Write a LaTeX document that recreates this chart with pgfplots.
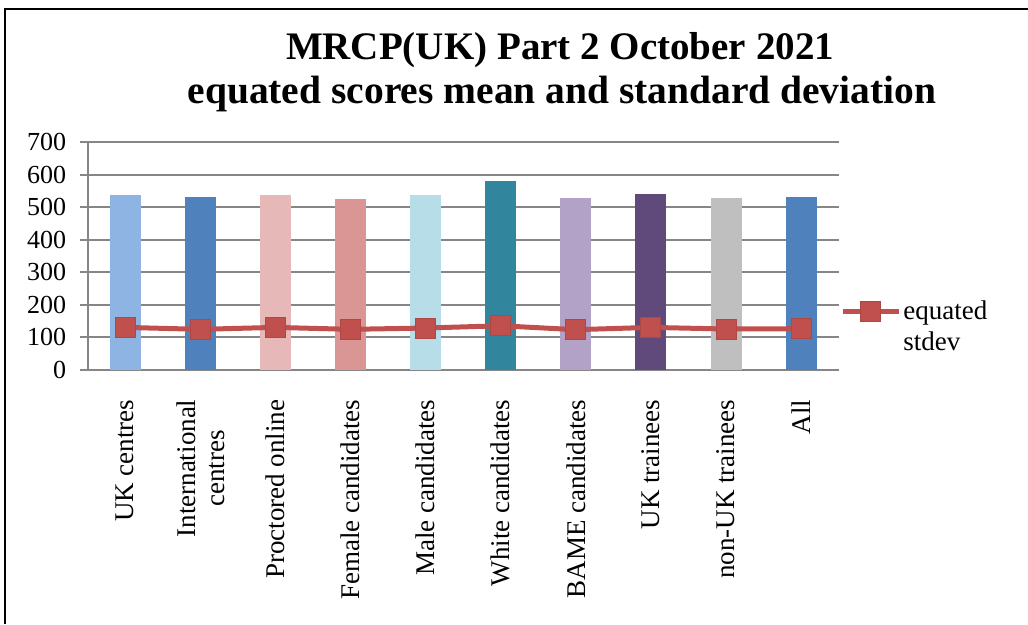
\documentclass[border=0pt]{standalone}
\usepackage{pgfplots}
\pgfplotsset{compat=1.18}
\usepackage{fontspec}
\setmainfont{Liberation Serif}
\definecolor{c1}{HTML}{8EB4E3}
\definecolor{c2}{HTML}{4F81BD}
\definecolor{c3}{HTML}{E6B9B8}
\definecolor{c4}{HTML}{D99694}
\definecolor{c5}{HTML}{B7DEE8}
\definecolor{c6}{HTML}{31859C}
\definecolor{c7}{HTML}{B3A2C7}
\definecolor{c8}{HTML}{604A7B}
\definecolor{c9}{HTML}{BFBFBF}
\definecolor{c10}{HTML}{4F81BD}
\definecolor{lred}{HTML}{C0504D}
\definecolor{gridg}{HTML}{868686}
\begin{document}
\begin{tikzpicture}
\useasboundingbox (0pt,0pt) rectangle (1028pt,624pt);
\draw[line width=2.5pt,black] (5pt,0pt) -- (5pt,615pt) -- (1028pt,615pt);
\node[font=\fontsize{39}{44}\selectfont\bfseries,anchor=base] at (560pt,564pt) {MRCP(UK) Part 2 October 2021};
\node[font=\fontsize{39.5}{44}\selectfont\bfseries,anchor=base] at (562pt,520pt) {equated scores mean and standard deviation};
\begin{axis}[
  at={(87.7pt,254pt)}, anchor=south west,
  scale only axis, width=751pt, height=227.7pt,
  xmin=-0.5, xmax=9.5, ymin=0, ymax=700,
  ytick={0,100,...,700},
  xtick={0,...,9},
  xticklabels={UK centres,{International\\centres},Proctored online,Female candidates,Male candidates,White candidates,BAME candidates,UK trainees,non-UK trainees,All},
  xticklabel style={rotate=90, anchor=east, align=center, xshift=-18pt, font=\fontsize{27}{29}\selectfont},
  yticklabel style={xshift=-10pt, font=\fontsize{26}{28}\selectfont},
  /pgf/number format/assume math mode=true,
  ymajorgrids, grid style={gridg, line width=2pt},
  axis line style={gridg, line width=2pt},
  axis x line*=bottom, axis y line*=left,
  x axis line style={-}, y axis line style={-},
  major tick length=8pt, tick align=outside,
  xtick style={draw=none}, ytick style={gridg, line width=2pt},
  ybar, bar width=31pt, bar shift=0pt,
  legend style={draw=none, fill=none, inner sep=0pt, at={(1.002,0.312)}, anchor=north west, font=\fontsize{27}{31}\selectfont, cells={align=left}, nodes={inner xsep=2pt}},
  legend image code/.code={\draw[mark repeat=2,mark phase=2,#1] plot coordinates {(0pt,15pt) (28pt,15pt) (56pt,15pt)};},
]
\addplot[fill=c1, draw=none, forget plot] coordinates {(0,538)};
\addplot[fill=c2, draw=none, forget plot] coordinates {(1,531)};
\addplot[fill=c3, draw=none, forget plot] coordinates {(2,538)};
\addplot[fill=c4, draw=none, forget plot] coordinates {(3,526)};
\addplot[fill=c5, draw=none, forget plot] coordinates {(4,538)};
\addplot[fill=c6, draw=none, forget plot] coordinates {(5,582)};
\addplot[fill=c7, draw=none, forget plot] coordinates {(6,529)};
\addplot[fill=c8, draw=none, forget plot] coordinates {(7,541)};
\addplot[fill=c9, draw=none, forget plot] coordinates {(8,529)};
\addplot[fill=c10, draw=none, forget plot] coordinates {(9,533)};
\addplot[sharp plot, lred, line width=5pt, mark=square*, mark size=10pt, mark options={fill=lred, draw=lred!90!black, line width=1pt}] coordinates {
(0,131) (1,125) (2,131) (3,125) (4,129) (5,136) (6,124) (7,131) (8,126) (9,127)};
\addlegendentry{equated\\stdev}
\end{axis}
\end{tikzpicture}
\end{document}
